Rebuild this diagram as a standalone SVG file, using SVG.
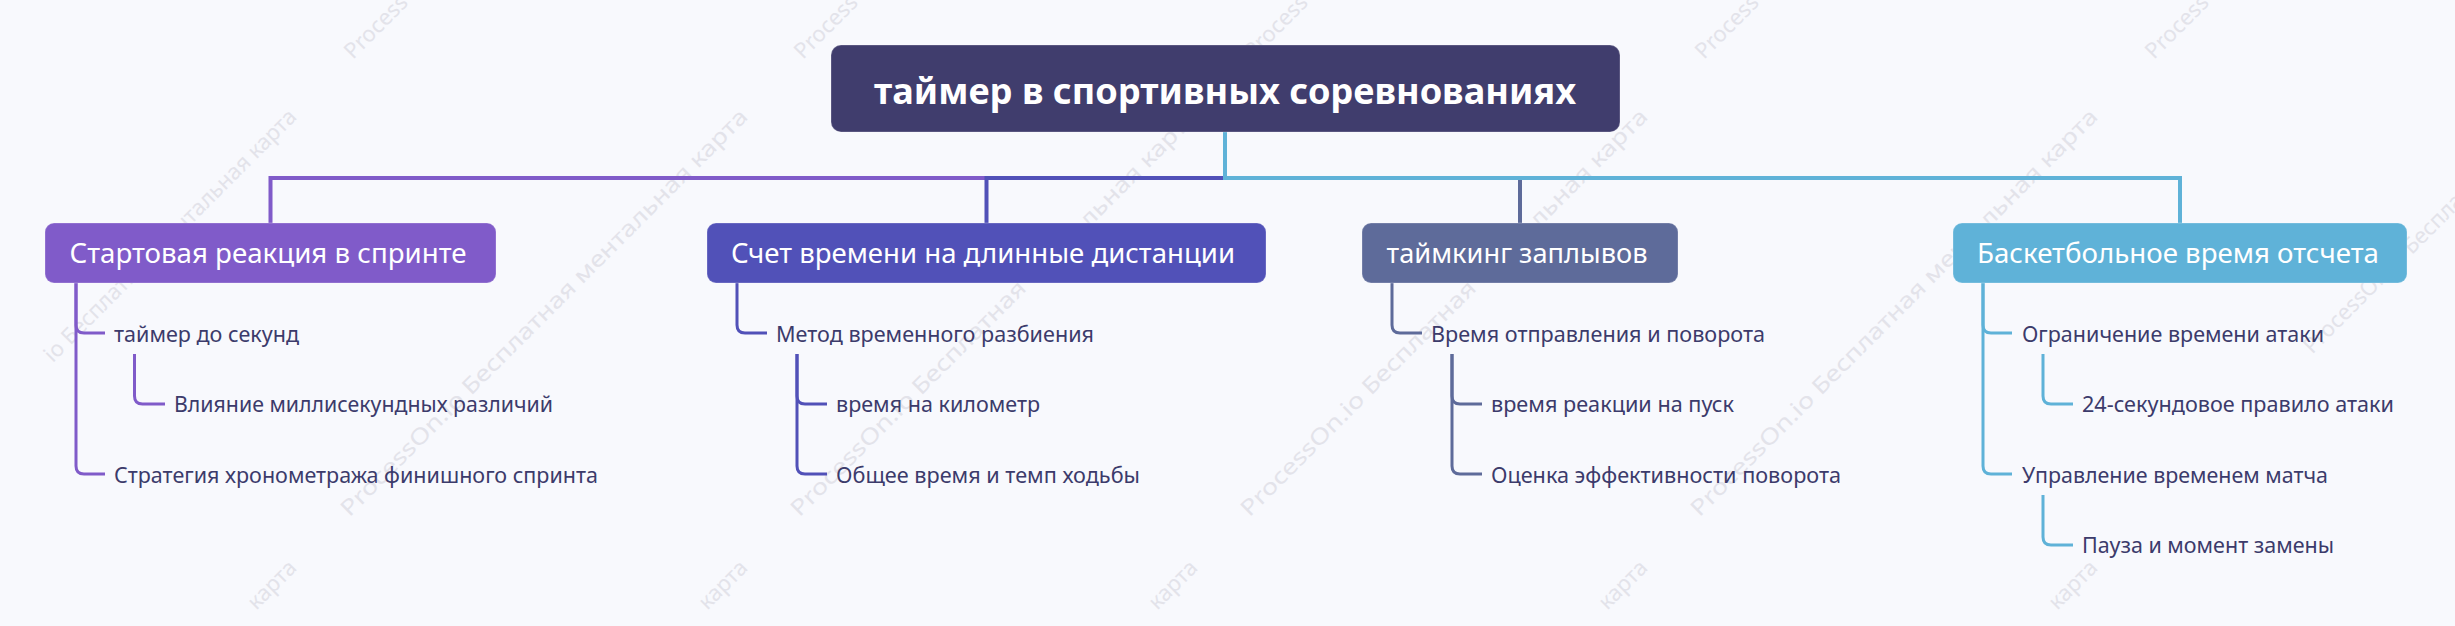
<svg xmlns="http://www.w3.org/2000/svg" width="2455" height="626" viewBox="0 0 2455 626">
<style>
.wm{font-family:"Noto Sans","Liberation Sans",sans-serif;font-size:22px;fill:#e3e3ea}
.root{font-family:"Noto Sans","Liberation Sans",sans-serif;font-size:36px;font-weight:bold;fill:#ffffff}
.l1{font-family:"Noto Sans","Liberation Sans",sans-serif;font-size:27.5px;fill:#ffffff}
.l2{font-family:"Noto Sans","Liberation Sans",sans-serif;font-size:21.6px;fill:#3c3b6b}
.main{fill:none;stroke-width:4}
.sub{fill:none;stroke-width:3}
.box{stroke:#ffffff;stroke-opacity:0.18;stroke-width:1.5}
</style>
<rect x="0" y="0" width="2455" height="626" fill="#f8f9fd"/>
<g id="watermarks">
<text class="wm" transform="translate(353,60) rotate(-45)">Process</text>
<text class="wm" transform="translate(803,60) rotate(-45)">Process</text>
<text class="wm" transform="translate(1253,60) rotate(-45)">Process</text>
<text class="wm" transform="translate(1704,60) rotate(-45)">Process</text>
<text class="wm" transform="translate(2154,60) rotate(-45)">Process</text>
<text class="wm" text-anchor="end" transform="translate(298,118) rotate(-45)">io Бесплатная ментальная карта</text>
<text class="wm" text-anchor="end" textLength="565" lengthAdjust="spacingAndGlyphs" transform="translate(749,118) rotate(-45)">ProcessOn.io Бесплатная ментальная карта</text>
<text class="wm" text-anchor="end" textLength="565" lengthAdjust="spacingAndGlyphs" transform="translate(1199,118) rotate(-45)">ProcessOn.io Бесплатная ментальная карта</text>
<text class="wm" text-anchor="end" textLength="565" lengthAdjust="spacingAndGlyphs" transform="translate(1649,118) rotate(-45)">ProcessOn.io Бесплатная ментальная карта</text>
<text class="wm" text-anchor="end" textLength="565" lengthAdjust="spacingAndGlyphs" transform="translate(2099,118) rotate(-45)">ProcessOn.io Бесплатная ментальная карта</text>
<text class="wm" text-anchor="end" transform="translate(2549,118) rotate(-45)">ProcessOn.io Бесплатная мента</text>
<text class="wm" text-anchor="end" transform="translate(298,569) rotate(-45)">карта</text>
<text class="wm" text-anchor="end" transform="translate(749,569) rotate(-45)">карта</text>
<text class="wm" text-anchor="end" transform="translate(1199,569) rotate(-45)">карта</text>
<text class="wm" text-anchor="end" transform="translate(1649,569) rotate(-45)">карта</text>
<text class="wm" text-anchor="end" transform="translate(2099,569) rotate(-45)">карта</text>
</g>
<g id="connectors">
<path class="main" stroke="#805bc9" d="M1225,131 V178 H270.5 V223"/>
<path class="main" stroke="#5151b8" d="M1225,131 V178 H986.5 V223"/>
<path class="main" stroke="#5e6b9a" d="M1225,131 V178 H1520 V223"/>
<path class="main" stroke="#5fb2d8" d="M1225,131 V178 H2180 V223"/>
<g stroke="#805bc9" class="sub">
<path d="M76,283 V325 Q76,333 84,333 H105"/>
<path d="M76,283 V466 Q76,474 84,474 H105"/>
<path d="M134.5,354 V396 Q134.5,404 142.5,404 H165"/>
</g>
<g stroke="#5151b8" class="sub">
<path d="M737,283 V325 Q737,333 745,333 H767"/>
<path d="M797,354 V396 Q797,404 805,404 H827"/>
<path d="M797,354 V466 Q797,474 805,474 H827"/>
</g>
<g stroke="#5e6b9a" class="sub">
<path d="M1392,283 V325 Q1392,333 1400,333 H1422"/>
<path d="M1452,354 V396 Q1452,404 1460,404 H1482"/>
<path d="M1452,354 V466 Q1452,474 1460,474 H1482"/>
</g>
<g stroke="#5fb2d8" class="sub">
<path d="M1983,283 V325 Q1983,333 1991,333 H2012"/>
<path d="M1983,283 V466 Q1983,474 1991,474 H2012"/>
<path d="M2043,354 V396 Q2043,404 2051,404 H2073"/>
<path d="M2043,495 V537 Q2043,545 2051,545 H2073"/>
</g>
</g>
<g id="root">
<rect class="box" x="831" y="45" width="789" height="87" rx="10" fill="#403d6d"/>
<text class="root" x="1225" y="104" text-anchor="middle" textLength="702" lengthAdjust="spacingAndGlyphs">таймер в спортивных соревнованиях</text>
</g>
<g id="c1">
<rect class="box" x="45" y="223" width="451" height="60" rx="9" fill="#805bc9"/>
<text class="l1" x="268" y="263" text-anchor="middle" textLength="397" lengthAdjust="spacingAndGlyphs">Стартовая реакция в спринте</text>
</g>
<g id="c2">
<rect class="box" x="707" y="223" width="559" height="60" rx="9" fill="#5151b8"/>
<text class="l1" x="983" y="263" text-anchor="middle" textLength="504" lengthAdjust="spacingAndGlyphs">Счет времени на длинные дистанции</text>
</g>
<g id="c3">
<rect class="box" x="1362" y="223" width="316" height="60" rx="9" fill="#5e6b9a"/>
<text class="l1" x="1517" y="263" text-anchor="middle" textLength="261" lengthAdjust="spacingAndGlyphs">таймкинг заплывов</text>
</g>
<g id="c4">
<rect class="box" x="1953" y="223" width="454" height="60" rx="9" fill="#5fb2d8"/>
<text class="l1" x="2178" y="263" text-anchor="middle" textLength="402" lengthAdjust="spacingAndGlyphs">Баскетбольное время отсчета</text>
</g>
<g id="c1a"><text class="l2" x="114" y="342" textLength="185" lengthAdjust="spacingAndGlyphs">таймер до секунд</text></g>
<g id="c1a1"><text class="l2" x="174" y="412" textLength="379" lengthAdjust="spacingAndGlyphs">Влияние миллисекундных различий</text></g>
<g id="c1b"><text class="l2" x="114" y="483" textLength="484" lengthAdjust="spacingAndGlyphs">Стратегия хронометража финишного спринта</text></g>
<g id="c2a"><text class="l2" x="776" y="342" textLength="318" lengthAdjust="spacingAndGlyphs">Метод временного разбиения</text></g>
<g id="c2a1"><text class="l2" x="836" y="412" textLength="204" lengthAdjust="spacingAndGlyphs">время на километр</text></g>
<g id="c2a2"><text class="l2" x="836" y="483" textLength="304" lengthAdjust="spacingAndGlyphs">Общее время и темп ходьбы</text></g>
<g id="c3a"><text class="l2" x="1431" y="342" textLength="334" lengthAdjust="spacingAndGlyphs">Время отправления и поворота</text></g>
<g id="c3a1"><text class="l2" x="1491" y="412" textLength="243" lengthAdjust="spacingAndGlyphs">время реакции на пуск</text></g>
<g id="c3a2"><text class="l2" x="1491" y="483" textLength="350" lengthAdjust="spacingAndGlyphs">Оценка эффективности поворота</text></g>
<g id="c4a"><text class="l2" x="2022" y="342" textLength="302" lengthAdjust="spacingAndGlyphs">Ограничение времени атаки</text></g>
<g id="c4a1"><text class="l2" x="2082" y="412" textLength="312" lengthAdjust="spacingAndGlyphs">24-секундовое правило атаки</text></g>
<g id="c4b"><text class="l2" x="2022" y="483" textLength="306" lengthAdjust="spacingAndGlyphs">Управление временем матча</text></g>
<g id="c4b1"><text class="l2" x="2082" y="553" textLength="252" lengthAdjust="spacingAndGlyphs">Пауза и момент замены</text></g>
</svg>
